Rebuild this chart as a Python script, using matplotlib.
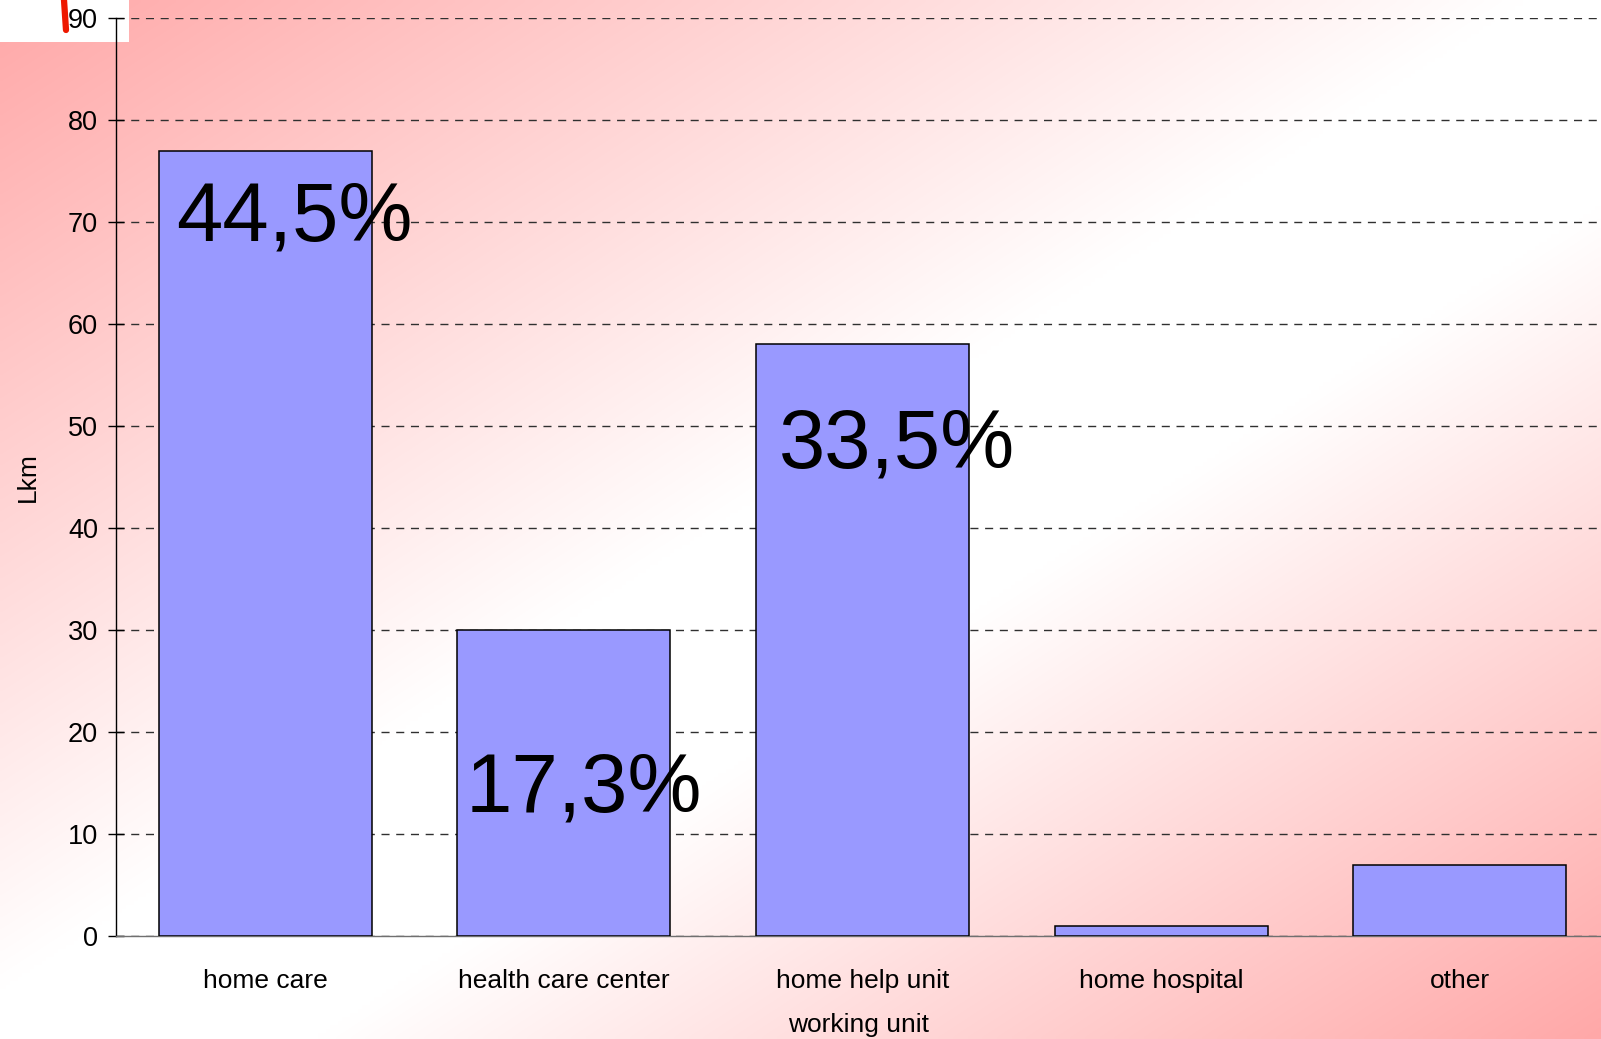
import numpy as np
import matplotlib
matplotlib.use("Agg")
import matplotlib.pyplot as plt
from matplotlib.patches import Rectangle

# ---- data ----
categories = ["home care", "health care center", "home help unit", "home hospital", "other"]
counts = [77, 30, 58, 1, 7]
pct_labels = ["44,5%", "17,3%", "33,5%", None, None]
y_ticks = [0, 10, 20, 30, 40, 50, 60, 70, 80, 90]
y_label = "Lkm"
x_label = "working unit"

# label placement (layout, offsets from bar centre / bar top)
label_dx = [-0.30, -0.33, -0.28, 0, 0]
label_dy = [-8.8, -17.8, -12.1, 0, 0]

plt.rcParams['font.family'] = ['Liberation Sans', 'DejaVu Sans']

W, H = 1601, 1039
fig = plt.figure(figsize=(W / 100, H / 100), dpi=100)

# ---- background gradient ----
bg = fig.add_axes([0, 0, 1, 1], zorder=-10)
xx, yy = np.meshgrid(np.linspace(0, 1, 400), np.linspace(0, 1, 260))
s = xx + yy                      # 0 at top-left, 2 at bottom-right
t = np.where(s < 0.95, s / 0.95, np.where(s < 1.2, 1.0, (2 - s) / 0.8))
t = np.clip(t, 0, 1)
pink = np.array([255, 168, 168]) / 255
white = np.array([255, 255, 255]) / 255
img = pink[None, None, :] * (1 - t[..., None]) + white[None, None, :] * t[..., None]
bg.imshow(img, extent=[0, W, H, 0], aspect='auto', interpolation='bilinear')
bg.add_patch(Rectangle((0, 0), 129, 42, facecolor='white', edgecolor='none'))
bg.plot([64, 66], [0, 30], color='#ee1800', lw=4.5, solid_capstyle='round')
bg.set_xlim(0, W)
bg.set_ylim(H, 0)
bg.axis('off')

# ---- main axes ----
left = 116 / W
bottom = (H - 936) / H
top = (H - 18) / H
ax = fig.add_axes([left, bottom, 1 - left, top - bottom])
ax.patch.set_alpha(0)

x = np.arange(len(categories))
ax.bar(x, counts, width=0.713, color='#9999ff', edgecolor='black', linewidth=1.1, zorder=3)

ax.set_xlim(-0.5, 4.473)
ax.set_ylim(0, 90)
ax.set_yticks(y_ticks)
ax.set_yticklabels([str(v) for v in y_ticks], fontsize=19.5)
ax.set_xticks(x)
ax.set_xticklabels(categories, fontsize=19)

ax.yaxis.grid(True, color='#303030', linewidth=1.0, linestyle=(0, (5.8, 4.8)))
ax.set_axisbelow(True)

ax.tick_params(axis='y', direction='inout', length=12, width=1, pad=7, colors='black')
ax.tick_params(axis='x', length=0, pad=24)

for side in ['top', 'right']:
    ax.spines[side].set_visible(False)
ax.spines['left'].set_color('black')
ax.spines['left'].set_linewidth(1.0)
ax.spines['bottom'].set_color('#707070')
ax.spines['bottom'].set_linewidth(1.0)

ax.set_xlabel(x_label, fontsize=19, labelpad=14)
ax.set_ylabel(y_label, fontsize=19, labelpad=20)

for i, lab in enumerate(pct_labels):
    if lab:
        ax.text(x[i] + label_dx[i], counts[i] + label_dy[i], lab, fontsize=60,
                ha='left', va='baseline', color='black', zorder=5)

fig.savefig("out.png", dpi=100)
